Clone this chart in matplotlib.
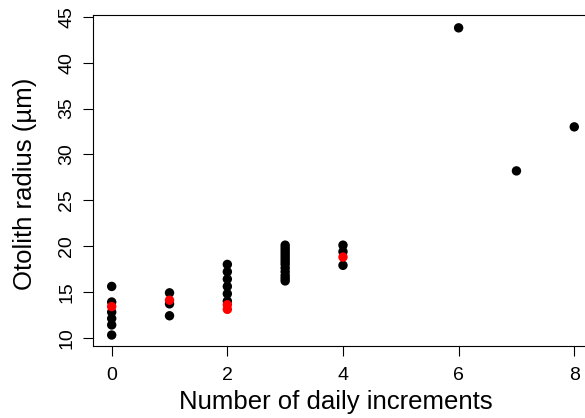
import matplotlib
matplotlib.use("Agg")
import matplotlib.pyplot as plt

# otolith data
x_black = [0, 0, 0, 0, 0, 0,
           1, 1, 1,
           2, 2, 2, 2, 2, 2,
           3, 3, 3, 3, 3, 3, 3, 3, 3, 3, 3, 3, 3,
           4, 4, 4,
           6, 7, 8]
y_black = [15.6, 13.9, 12.8, 12.1, 11.4, 10.3,
           14.9, 13.7, 12.4,
           18.0, 17.2, 16.4, 15.6, 14.8, 14.0,
           20.1, 19.8, 19.5, 19.2, 18.9, 18.6, 18.3, 18.0, 17.6, 17.2, 16.8, 16.5, 16.2,
           20.1, 19.4, 17.9,
           43.8, 28.2, 33.0]

x_red = [0, 1, 2, 2, 4]
y_red = [13.4, 14.1, 13.6, 13.1, 18.8]

x_ticks = [0, 2, 4, 6, 8]
y_ticks = [10, 15, 20, 25, 30, 35, 40, 45]

plt.rcParams['font.family'] = ['Liberation Sans', 'DejaVu Sans']

fig = plt.figure(figsize=(5.85, 4.18), dpi=100)
# axes runs off the right edge, like the original
ax = fig.add_axes([0.1593, 0.1722, 0.854, 0.7919])

ax.scatter(x_black, y_black, s=46, color='black', edgecolors='none', zorder=3)
ax.scatter(x_red, y_red, s=46, color='#ff0000', edgecolors='none', zorder=4)

ax.set_xlim(-0.32, 8.32)
ax.set_ylim(9.1, 45.2)
ax.set_xticks(x_ticks)
ax.set_yticks(y_ticks)
ax.set_xticklabels([str(v) for v in x_ticks])
ax.set_yticklabels([str(v) for v in y_ticks], rotation=90, va='center')

ax.tick_params(direction='out', length=7, width=0.8, labelsize=14)
ax.tick_params(axis='x', pad=8)
ax.tick_params(axis='y', pad=6)
for sp in ax.spines.values():
    sp.set_linewidth(0.8)

ax.set_xlabel("Number of daily increments", fontsize=18.5, va='center')
ax.set_ylabel("Otolith radius (\u00b5m)", fontsize=18.5, va='center')
ax.xaxis.set_label_coords(0.485, -0.169)
ax.yaxis.set_label_coords(-0.1365, 0.49)

fig.savefig("out.png", dpi=100)
